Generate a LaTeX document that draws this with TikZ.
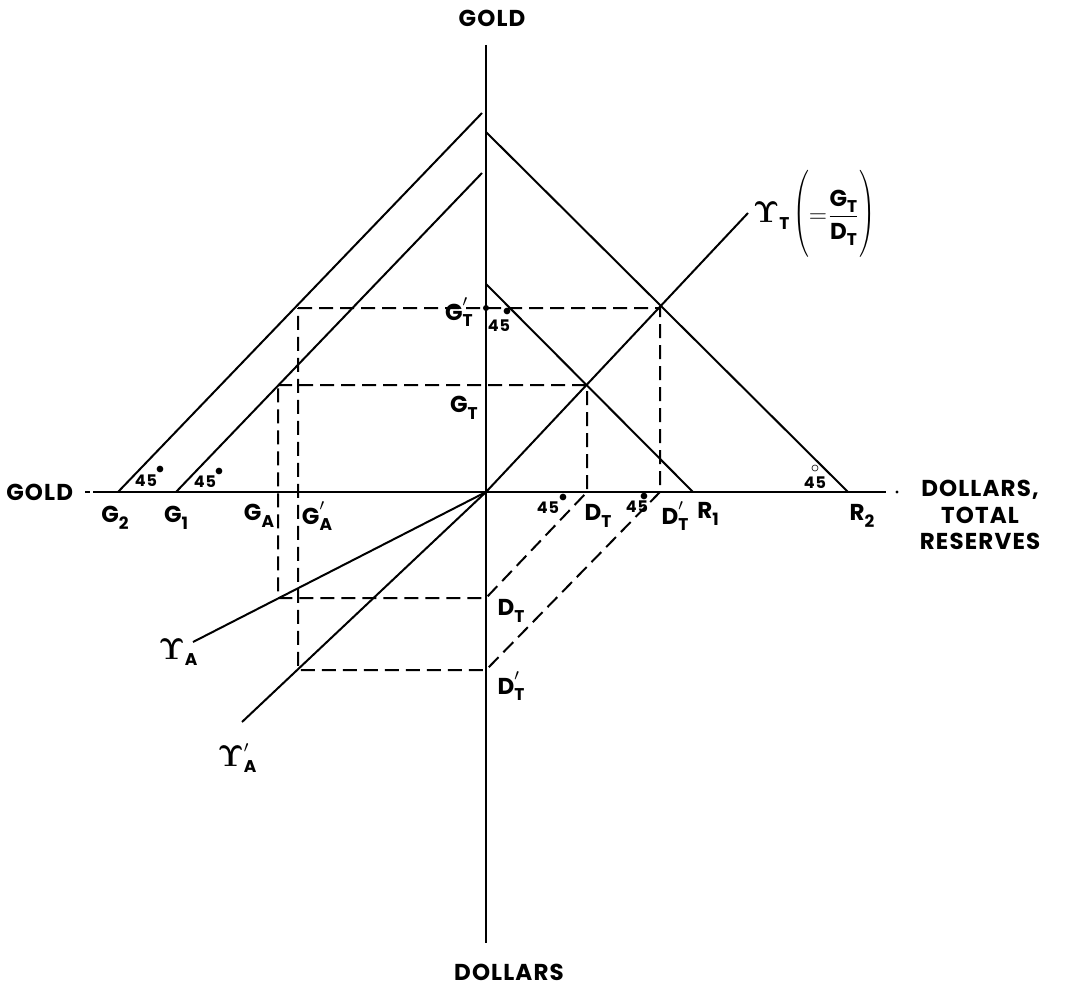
\documentclass[tikz,border=0pt]{standalone}
\usepackage{graphicx}
\usepackage[no-math]{fontspec}
\setmainfont{Poppins}[LetterSpace=5]
\newcommand\sub[1]{\raisebox{-0.5ex}{\fontsize{8.5}{9}\selectfont #1}}
\newcommand\subp[1]{\makebox[0pt][l]{\raisebox{1.1ex}{$\scriptstyle\prime$}}\raisebox{-0.5ex}{\fontsize{8.5}{9}\selectfont #1}}
\newcommand\ups{\scalebox{1.25}{$\mathbf{\Upsilon}$}}
\begin{document}
\begin{tikzpicture}[x=0.5pt,y=-0.5pt,line width=1pt,
    guide/.style={dash pattern=on 7pt off 3.5pt},
    lab/.style={font=\fontsize{11.5}{12.5}\selectfont\bfseries, inner sep=0pt},
    deg/.style={font=\fontsize{8}{9}\selectfont\bfseries, inner sep=0pt}]
  \useasboundingbox (0,0) rectangle (1069,990);

  % Points
  \coordinate (O) at (486,492);
  \coordinate (goldTop) at (486,45);
  \coordinate (dolBot) at (486,943);
  \coordinate (goldEnd) at (93,492);
  \coordinate (resEnd) at (886,492);
  \coordinate (G2) at (118,492);  \coordinate (apexB) at (482,113);
  \coordinate (G1) at (176,492);  \coordinate (apexA) at (482,173);
  \coordinate (R2) at (848,492);  \coordinate (topB) at (486,132);
  \coordinate (R1) at (693,492);  \coordinate (topA) at (486,284);
  \coordinate (gT) at (748,213);
  \coordinate (gA) at (193,642);
  \coordinate (gAp) at (242,722);
  \coordinate (P1) at (298,308);  \coordinate (Q1) at (660,308);
  \coordinate (DTpx) at (660,492); \coordinate (DTpy) at (486,670);
  \coordinate (P1b) at (298,670);
  \coordinate (P2) at (278,385);  \coordinate (Q2) at (587,385);
  \coordinate (DTx) at (587,492); \coordinate (DTy) at (486,598);
  \coordinate (P2b) at (278,598);
  \coordinate (GTp) at (486,308);

  % Axes
  \draw[line width=1.2pt] (goldTop) -- (dolBot);
  \draw[line width=1.2pt] (goldEnd) -- (resEnd);
  \draw (85,492) -- (90,492);
  \fill (897,492) circle (1.6);

  % Reserve lines and ratio lines
  \draw (G2) -- (apexB);
  \draw (G1) -- (apexA);
  \draw (topB) -- (R2);
  \draw (topA) -- (R1);
  \draw (O) -- (gT);
  \draw (O) -- (gA);
  \draw (O) -- (gAp);

  % Dashed constructions
  \draw[guide] (P1) -- (Q1) -- (DTpx) -- (DTpy) -- (P1b) -- cycle;
  \draw[guide] (P2) -- (Q2) -- (DTx) -- (DTy) -- (P2b) -- cycle;
  \fill (GTp) circle (3);

  % Axis names
  \node[lab] (goldT) at (492,18) {GOLD};
  \node[lab] (dolB) at (509,972) {DOLLARS};
  \node[lab, anchor=east] (goldL) at (74,492) {GOLD};
  \node[lab, align=center] (resR) at (980,515) {DOLLARS,\\[0.6pt]TOTAL\\[0.6pt]RESERVES};

  % Point labels
  \foreach \nm/\x/\y/\txt in {lG2/115/518/{G\sub{2}}, lG1/176/518/{G\sub{1}},
      lGA/259/516/{G\sub{A}}, lGAp/317/516/{G\subp{A}},
      lDT/598/516/{D\sub{T}}, lDTp/675/516/{D\subp{T}},
      lR1/708/514/{R\sub{1}}, lR2/862/516/{R\sub{2}},
      lGTp/459/312/{G\subp{T}}, lGT/464/408/{G\sub{T}},
      lDTy/511/611/{D\sub{T}}, lDTpy/511/686/{D\subp{T}},
      lgA/178/652/{\ups\sub{A}}, lgAp/237/758/{\ups\subp{A}}}
    \node[lab] (\nm) at (\x,\y) {\txt};

  \node[lab, anchor=west] (lgT) at (752,214) {\ups\sub{T}\,%
    \scalebox{1}[1.45]{$\Biggl($}$\mathbf{=}\displaystyle\frac{\mbox{G\sub{T}}}{\mbox{D\sub{T}}}$%
    \scalebox{1}[1.45]{$\Biggr)$}};

  % Angle marks
  \foreach \nm/\x/\y in {a1/146/481, a2/205/482, a3/548/508, a4/637/507, a5/815/483, a6/499/326}
    \node[deg] (\nm) at (\x,\y) {45};
  \foreach \nm/\x/\y in {d1/160/470, d2/219/472, d3/563/498, d4/644/497, d6/507/312}
    \node[deg] (\nm) at (\x,\y) {$\bullet$};
  \node[deg] (d5) at (815,469) {$\circ$};
\end{tikzpicture}
\end{document}
